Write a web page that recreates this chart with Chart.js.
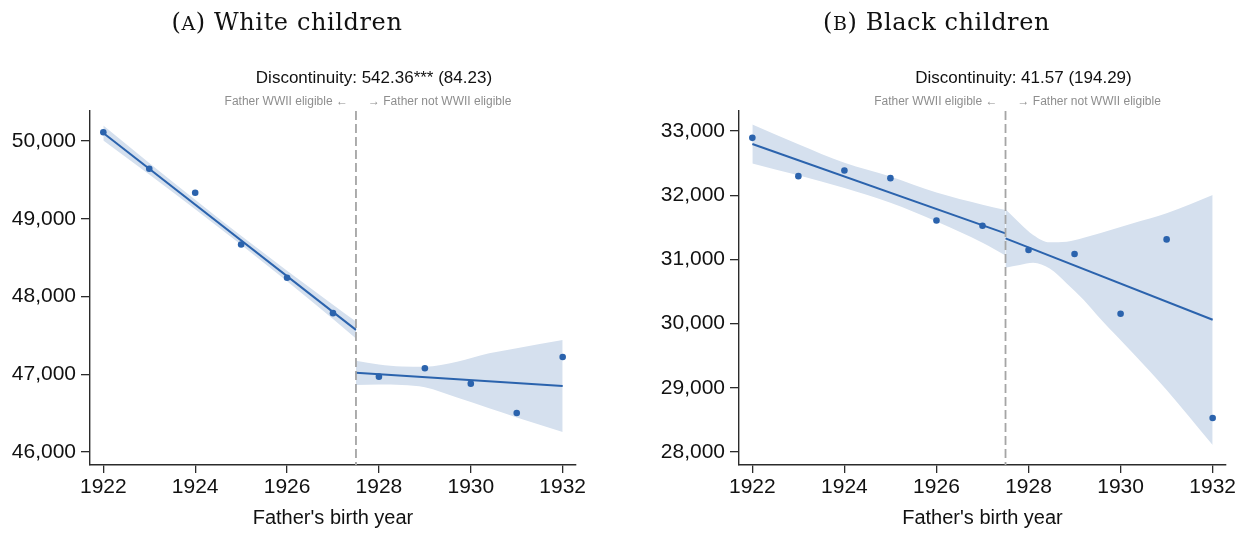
<!DOCTYPE html>
<html><head><meta charset="utf-8">
<script src="https://cdn.jsdelivr.net/npm/chart.js@4.4.1/dist/chart.umd.min.js"></script>
<style>
html,body{margin:0;padding:0;background:#fff;}
#wrap{position:relative;width:1247px;height:534px;overflow:hidden;background:#fff;}
.panel{position:absolute;top:0;height:534px;}
.panel canvas{position:absolute;left:0;top:0;}
.ttl{position:absolute;top:9.8px;font-family:'DejaVu Serif',serif;font-size:24px;line-height:24px;letter-spacing:0.6px;white-space:nowrap;color:#111;transform:translateX(-50%);}
.ttl .sc{font-size:19px;}
.disc{position:absolute;top:68.9px;font-family:'Liberation Sans',Arial,sans-serif;font-size:17px;line-height:17px;white-space:nowrap;color:#111;transform:translateX(-50%);}
.el{position:absolute;top:94.8px;font-family:'Liberation Sans',Arial,sans-serif;font-size:12px;line-height:12px;white-space:nowrap;color:#8e8e8e;}
.elL{transform:translateX(-100%);}
</style>
</head>
<body>
<div id="wrap">
  <div class="panel" id="p1" style="left:0;width:620px;">
    <canvas id="c1" width="620" height="534"></canvas>
    <div class="ttl" id="t1">(<span class="sc">A</span>) White children</div>
    <div class="disc" id="d1">Discontinuity: 542.36*** (84.23)</div>
    <div class="el elL" id="l1">Father WWII eligible ←</div>
    <div class="el" id="r1">→ Father not WWII eligible</div>
  </div>
  <div class="panel" id="p2" style="left:620px;width:627px;">
    <canvas id="c2" width="627" height="534"></canvas>
    <div class="ttl" id="t2">(<span class="sc">B</span>) Black children</div>
    <div class="disc" id="d2">Discontinuity: 41.57 (194.29)</div>
    <div class="el elL" id="l2">Father WWII eligible ←</div>
    <div class="el" id="r2">→ Father not WWII eligible</div>
  </div>
</div>
<script>
// ---------------- DATA ----------------
const years = [1922, 1923, 1924, 1925, 1926, 1927, 1928, 1929, 1930, 1931, 1932];
const whiteMeans = [50112, 49644, 49335, 48669, 48241, 47786, 46969, 47077, 46879, 46502, 47223];
const blackMeans = [32893, 32296, 32385, 32265, 31606, 31524, 31145, 31083, 30153, 31311, 28528];
const cutoffYear = 1927.5;
const xTickLabels = [1922, 1924, 1926, 1928, 1930, 1932];
const whiteYTicks = [46000, 47000, 48000, 49000, 50000];
const blackYTicks = [28000, 29000, 30000, 31000, 32000, 33000];

// fitted lines
const whiteFitLeftX = [1922, 1927.5];
const whiteFitLeftY = [50103, 47571];
const whiteFitRightX = [1927.5, 1932];
const whiteFitRightY = [47021, 46850];
const blackFitLeftX = [1922, 1927.5];
const blackFitLeftY = [32798, 31404];
const blackFitRightX = [1927.5, 1932];
const blackFitRightY = [31327, 30060];

// confidence bands
const whiteBandLeftX = [1922, 1923, 1924, 1925, 1926, 1927, 1927.5];
const whiteBandLeftUpper = [50200, 49718, 49245, 48780, 48332, 47895, 47680];
const whiteBandLeftLower = [50008, 49570, 49122, 48665, 48195, 47710, 47460];
const whiteBandRightX = [1927.5, 1928, 1928.5, 1929, 1929.7, 1930.4, 1931, 1932];
const whiteBandRightUpper = [47175, 47125, 47100, 47098, 47160, 47270, 47335, 47441];
const whiteBandRightLower = [46862, 46868, 46862, 46833, 46700, 46562, 46445, 46258];

const blackBandLeftX = [1922, 1923, 1924, 1925, 1926, 1927, 1927.5];
const blackBandLeftUpper = [33101, 32795, 32505, 32290, 32040, 31850, 31770];
const blackBandLeftLower = [32495, 32310, 32110, 31880, 31590, 31260, 31060];
const blackBandRightX = [1927.5, 1927.81, 1928.1, 1928.46, 1928.83, 1929.2, 1929.55, 1930.27, 1931.0, 1932];
const blackBandRightUpper = [31779, 31561, 31379, 31265, 31274, 31335, 31405, 31561, 31717, 32002];
const blackBandRightLower = [30869, 30911, 30947, 30857, 30626, 30366, 30081, 29536, 28964, 28107];

// axis ranges
const xMin = 1921.71, xMax = 1932.29;
const whiteYMin = 45833, whiteYMax = 50386;
const blackYMin = 27797, blackYMax = 33311;

// ---------------- STYLE ----------------
const BLUE = '#2b63ad';
const BAND = '#d5e0ee';
const AXIS = '#2b2b2b';

function pts(xs, ys) { return xs.map((x, i) => ({x: x, y: ys[i]})); }

const cutoffPlugin = {
  id: 'cutoff',
  afterDatasetsDraw(chart, args, opts) {
    const {ctx, chartArea, scales} = chart;
    const x = scales.x.getPixelForValue(opts.value);
    ctx.save();
    ctx.strokeStyle = '#a5a5a5';
    ctx.lineWidth = 1.8;
    ctx.setLineDash([9, 4]);
    ctx.beginPath();
    ctx.moveTo(x, chartArea.top);
    ctx.lineTo(x, chartArea.bottom);
    ctx.stroke();
    ctx.restore();
  },
  afterRender(chart, args, opts) {
    const {chartArea, scales} = chart;
    const x = scales.x.getPixelForValue(opts.value);
    document.getElementById(opts.d).style.left = (x + 18) + 'px';
    document.getElementById(opts.l).style.left = (x - 8) + 'px';
    document.getElementById(opts.r).style.left = (x + 12) + 'px';
    document.getElementById(opts.t).style.left = ((chartArea.left + chartArea.right) / 2 - 46) + 'px';
  }
};

function makeChart(id, cfg) {
  const ds = [
    {data: pts(cfg.bandLX, cfg.bandLU), fill: '+1', backgroundColor: BAND, borderColor: 'transparent', borderWidth: 0, pointRadius: 0, cubicInterpolationMode: 'monotone', order: 5},
    {data: pts(cfg.bandLX, cfg.bandLL), fill: false, borderColor: 'transparent', borderWidth: 0, pointRadius: 0, cubicInterpolationMode: 'monotone', order: 6},
    {data: pts(cfg.bandRX, cfg.bandRU), fill: '+1', backgroundColor: BAND, borderColor: 'transparent', borderWidth: 0, pointRadius: 0, cubicInterpolationMode: 'monotone', order: 5},
    {data: pts(cfg.bandRX, cfg.bandRL), fill: false, borderColor: 'transparent', borderWidth: 0, pointRadius: 0, cubicInterpolationMode: 'monotone', order: 6},
    {data: pts(cfg.fitLX, cfg.fitLY), fill: false, borderColor: BLUE, borderWidth: 2, pointRadius: 0, order: 2},
    {data: pts(cfg.fitRX, cfg.fitRY), fill: false, borderColor: BLUE, borderWidth: 2, pointRadius: 0, order: 2},
    {data: pts(years, cfg.means), showLine: false, fill: false, pointRadius: 3.3, pointBackgroundColor: BLUE, pointBorderWidth: 0, borderColor: BLUE, order: 1}
  ];
  return new Chart(document.getElementById(id), {
    type: 'line',
    data: {datasets: ds},
    plugins: [cutoffPlugin],
    options: {
      responsive: false,
      animation: false,
      events: [],
      layout: {padding: {top: 111, right: cfg.padRight, left: 0, bottom: 0}},
      plugins: {
        legend: {display: false},
        tooltip: {enabled: false},
        cutoff: {value: cutoffYear, d: cfg.d, l: cfg.l, r: cfg.r, t: cfg.t}
      },
      scales: {
        x: {
          type: 'linear', min: xMin, max: xMax,
          afterBuildTicks: s => { s.ticks = xTickLabels.map(v => ({value: v})); },
          afterFit: s => { s.height = 69; },
          ticks: {callback: v => String(v), font: {family: 'Liberation Sans', size: 21}, color: '#111', padding: 2, maxRotation: 0, autoSkip: false},
          grid: {drawOnChartArea: false, drawTicks: true, tickLength: 8, color: AXIS, lineWidth: 1.3},
          border: {display: true, color: AXIS, width: 1.4},
          title: {display: true, text: "Father's birth year", font: {family: 'Liberation Sans', size: 20}, color: '#111', padding: {top: 0, bottom: 4}}
        },
        y: {
          type: 'linear', min: cfg.yMin, max: cfg.yMax,
          afterBuildTicks: s => { s.ticks = cfg.yTicks.map(v => ({value: v})); },
          afterFit: s => { s.width = cfg.yWidth; },
          ticks: {callback: v => v.toLocaleString('en-US'), font: {family: 'Liberation Sans', size: 21}, color: '#111', padding: 5, autoSkip: false},
          grid: {drawOnChartArea: false, drawTicks: true, tickLength: 9, color: AXIS, lineWidth: 1.3},
          border: {display: true, color: AXIS, width: 1.4}
        }
      }
    }
  });
}

makeChart('c1', {
  means: whiteMeans, yTicks: whiteYTicks, yMin: whiteYMin, yMax: whiteYMax,
  fitLX: whiteFitLeftX, fitLY: whiteFitLeftY, fitRX: whiteFitRightX, fitRY: whiteFitRightY,
  bandLX: whiteBandLeftX, bandLU: whiteBandLeftUpper, bandLL: whiteBandLeftLower,
  bandRX: whiteBandRightX, bandRU: whiteBandRightUpper, bandRL: whiteBandRightLower,
  yWidth: 90, padRight: 44, d: 'd1', l: 'l1', r: 'r1', t: 't1'
});
makeChart('c2', {
  means: blackMeans, yTicks: blackYTicks, yMin: blackYMin, yMax: blackYMax,
  fitLX: blackFitLeftX, fitLY: blackFitLeftY, fitRX: blackFitRightX, fitRY: blackFitRightY,
  bandLX: blackBandLeftX, bandLU: blackBandLeftUpper, bandLL: blackBandLeftLower,
  bandRX: blackBandRightX, bandRU: blackBandRightUpper, bandRL: blackBandRightLower,
  yWidth: 119, padRight: 21, d: 'd2', l: 'l2', r: 'r2', t: 't2'
});
</script>
</body></html>
